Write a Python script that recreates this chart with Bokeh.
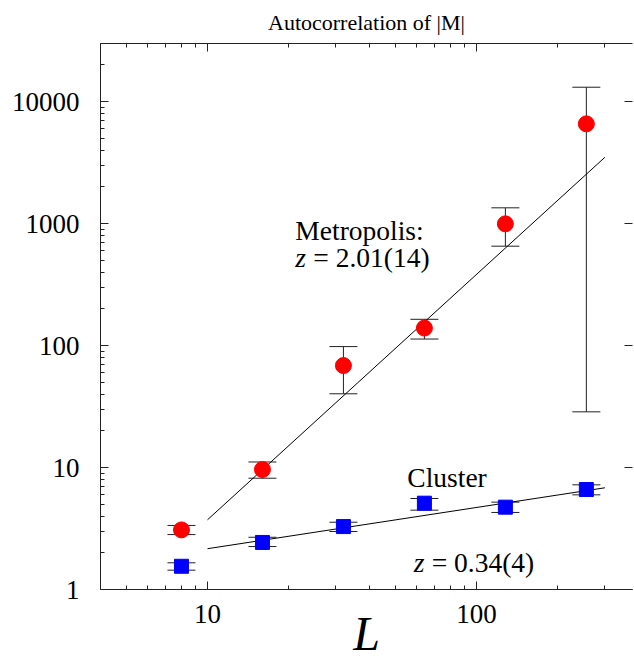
from bokeh.plotting import figure
from bokeh.models import (LogAxis, Label, Whisker, TeeHead, ColumnDataSource,
                          FixedTicker, NumeralTickFormatter)
from bokeh.embed import file_html
from bokeh.resources import INLINE

# ---- data ----
L = [8, 16, 32, 64, 128, 256]
metro_tau = [3.08, 9.63, 68.5, 139, 994, 6560]
metro_hi = [3.35, 11.1, 98, 164, 1345, 13100]
metro_lo = [2.82, 8.17, 40.2, 113, 652, 28.6]
cluster_tau = [1.55, 2.43, 3.28, 5.10, 4.73, 6.6]
cluster_hi = [1.655, 2.68, 3.56, 5.57, 5.2, 7.21]
cluster_lo = [1.44, 2.25, 2.99, 4.47, 4.28, 5.97]
fit_L = [10, 300]
metro_fit = [3.73, 3490]
cluster_fit = [2.16, 6.82]
x_major = [10, 100]
y_major = [1, 10, 100, 1000, 10000]

FONT = "'Liberation Serif', serif"
INK = "#222222"

x_minor = [m * d for d in [1, 10, 100] for m in range(2, 10)]
y_minor = [m * d for d in [1, 10, 100, 1000, 10000] for m in range(2, 10)]

p = figure(width=634, height=662, x_axis_type="log", y_axis_type="log",
           x_range=(4, 380), y_range=(1, 29900),
           output_backend="svg", toolbar_location=None,
           title="Autocorrelation of |M|",
           min_border_left=100, min_border_top=43, min_border_bottom=73,
           min_border_right=2)
p.outline_line_color = None
p.grid.visible = False
p.background_fill_color = "white"
p.border_fill_color = "white"

p.title.text_font = FONT
p.title.text_font_style = "normal"
p.title.text_font_size = "22px"
p.title.align = "center"
p.title.vertical_align = "top"
p.title.text_color = "black"
p.title.standoff = 14

def style_axis(ax, ticks, minors, labels=True, minor_len=4):
    ax.ticker = FixedTicker(ticks=ticks, minor_ticks=minors)
    ax.axis_line_color = INK
    ax.major_tick_line_color = INK
    ax.minor_tick_line_color = INK
    ax.major_tick_in = 8
    ax.major_tick_out = 0
    ax.minor_tick_in = minor_len
    ax.minor_tick_out = 0
    ax.formatter = NumeralTickFormatter(format="0")
    ax.major_label_text_font = FONT
    ax.major_label_text_color = "black"
    ax.major_label_text_font_size = "27px"
    if not labels:
        ax.major_label_overrides = {t: "" for t in ticks}
        ax.major_label_standoff = 0

style_axis(p.xaxis[0], x_major, x_minor)
style_axis(p.yaxis[0], y_major, y_minor)
p.xaxis[0].major_label_standoff = 15
p.yaxis[0].major_label_standoff = 21
p.xaxis[0].axis_label = "L"
p.xaxis[0].axis_label_text_font = FONT
p.xaxis[0].axis_label_text_font_style = "italic"
p.xaxis[0].axis_label_text_font_size = "48px"
p.xaxis[0].axis_label_text_color = "black"
p.xaxis[0].axis_label_standoff = -19

top = LogAxis()
style_axis(top, x_major, x_minor, labels=False)
p.add_layout(top, "above")
right = LogAxis()
style_axis(right, y_major, y_minor, labels=False, minor_len=0)
right.axis_line_color = None
p.add_layout(right, "right")

# fit lines
p.line(fit_L, metro_fit, line_color="black", line_width=1)
p.line(fit_L, cluster_fit, line_color="black", line_width=1)

# error bars
for lo, hi in [(metro_lo, metro_hi), (cluster_lo, cluster_hi)]:
    src = ColumnDataSource(dict(L=L, lo=lo, hi=hi))
    w = Whisker(base="L", lower="lo", upper="hi", source=src,
                line_color=INK, line_width=1,
                upper_head=TeeHead(size=28, line_color=INK, line_width=1),
                lower_head=TeeHead(size=28, line_color=INK, line_width=1),
                level="underlay")
    p.add_layout(w)

p.scatter(L, metro_tau, marker="circle", size=16, fill_color="#ff0000",
          line_color="#ff0000")
p.scatter(L, cluster_tau, marker="square", size=14, fill_color="#0000ff",
          line_color="#0000ff")

def lab(x, y, text, style="normal", dx=0, size="27.5px"):
    p.add_layout(Label(x=x, y=y, text=text, x_offset=dx, text_font=FONT,
                       text_font_size=size, text_font_style=style,
                       text_color="black", text_baseline="alphabetic"))

lab(21.2, 877, "Metropolis:")
lab(21.2, 526, "z", "italic")
lab(21.2, 526, "= 2.01(14)", dx=18)
lab(55.3, 8.28, "Cluster")
lab(58.4, 1.66, "z", "italic")
lab(58.4, 1.66, "= 0.34(4)", dx=18)

open("out.html", "w").write(file_html(p, INLINE))
